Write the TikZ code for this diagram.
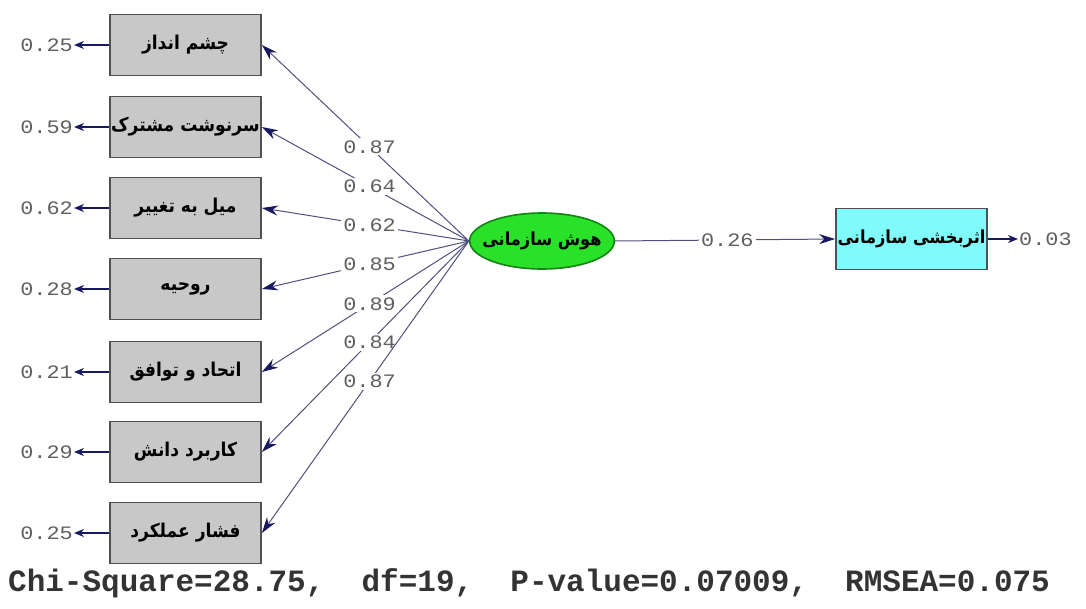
\documentclass[tikz,border=0pt]{standalone}
\usepackage{fontspec}
\usetikzlibrary{arrows.meta,shapes.geometric}
\TeXXeTstate=1
\newfontfamily\arabicfont[Script=Arabic,FakeStretch=0.9]{DejaVu Sans}
\newfontfamily\numfont[FakeStretch=1.15]{Liberation Mono}
\newfontfamily\fitfont{Liberation Mono}
\definecolor{boxgray}{RGB}{200,200,200}
\definecolor{edgegray}{RGB}{80,80,80}
\definecolor{arrowblue}{RGB}{80,80,125}
\definecolor{headblue}{RGB}{25,25,95}
\definecolor{numgray}{RGB}{95,95,95}
\definecolor{cyanfill}{RGB}{128,250,250}
\definecolor{greenfill}{RGB}{40,225,40}
\definecolor{greenedge}{RGB}{20,130,20}
\tikzset{
  indbox/.style={draw=edgegray, line width=1.8pt, fill=boxgray, minimum width=151pt, minimum height=61pt, inner sep=0pt, font=\arabicfont\bfseries\fontsize{19}{21}\selectfont},
  outbox/.style={indbox, fill=cyanfill, font=\arabicfont\bfseries\fontsize{18}{20}\selectfont},
  latent/.style={ellipse, draw=greenedge, line width=1.6pt, fill=greenfill, minimum width=142pt, minimum height=56pt, inner xsep=-8.5pt, inner ysep=0pt, font=\arabicfont\bfseries\fontsize{18}{20}\selectfont},
  numlbl/.style={font=\numfont\fontsize{19}{20}\selectfont, text=numgray, inner sep=1pt},
  onlbl/.style={numlbl, fill=white, inner sep=2pt},
  load/.style={draw=arrowblue, line width=1pt, -{Stealth[length=16pt,width=10pt,color=headblue]}},
  errarr/.style={draw=headblue, line width=2.4pt, -{Stealth[length=10pt,width=8pt]}},
}
\begin{document}
\begin{tikzpicture}[x=1pt,y=-1pt]
\useasboundingbox (0,0) rectangle (1086,609);
% indicator boxes
\node[indbox] (b1) at (185.5,45) {\beginR چشم انداز\endR};
\node[indbox] (b2) at (185.5,127) {\beginR سرنوشت مشترک\endR};
\node[indbox] (b3) at (185.5,208) {\beginR میل به تغییر\endR};
\node[indbox] (b4) at (185.5,289) {\beginR روحیه\endR};
\node[indbox] (b5) at (185.5,372) {\beginR اتحاد و توافق\endR};
\node[indbox] (b6) at (185.5,452) {\beginR کاربرد دانش\endR};
\node[indbox] (b7) at (185.5,533) {\beginR فشار عملکرد\endR};
% latent
\node[latent] (lat) at (542,241) {\beginR هوش سازمانی\endR};
% outcome
\node[outbox] (out) at (911.5,239) {\beginR اثربخشی سازمانی\endR};
% error values
\node[numlbl, anchor=east] (e1) at (74,45) {0.25};
\node[numlbl, anchor=east] (e2) at (74,127) {0.59};
\node[numlbl, anchor=east] (e3) at (74,208) {0.62};
\node[numlbl, anchor=east] (e4) at (74,289) {0.28};
\node[numlbl, anchor=east] (e5) at (74,372) {0.21};
\node[numlbl, anchor=east] (e6) at (74,452) {0.29};
\node[numlbl, anchor=east] (e7) at (74,533) {0.25};
\node[numlbl, anchor=west] (e8) at (1018,239) {0.03};
\foreach \i in {1,...,7} {
  \draw[errarr] (b\i.west) -- (e\i.east);
}
\draw[errarr] (out.east) -- (e8.west);
% loadings
\coordinate (lw) at (lat.west);
\draw[load] (lw) -- node[pos=0.48, onlbl] {0.87} (b1.east);
\draw[load] (lw) -- node[pos=0.48, onlbl] {0.64} (b2.east);
\draw[load] (lw) -- node[pos=0.48, onlbl] {0.62} (b3.east);
\draw[load] (lw) -- node[pos=0.48, onlbl] {0.85} (b4.east);
\draw[load] (lw) -- node[pos=0.48, onlbl] {0.89} (b5.east);
\draw[load] (lw) -- node[pos=0.48, onlbl] {0.84} (b6.east);
\draw[load] (lw) -- node[pos=0.48, onlbl] {0.87} (b7.east);
\draw[load] (lat.east) -- node[pos=0.51, onlbl] {0.26} (out.west);
% fit statistics
\node[font=\fitfont\bfseries\fontsize{31}{33}\selectfont, text=black!80, anchor=west, inner sep=0pt] (fit) at (8,583) {Chi-Square=28.75,~ df=19,~ P-value=0.07009,~ RMSEA=0.075};
\end{tikzpicture}
\end{document}
